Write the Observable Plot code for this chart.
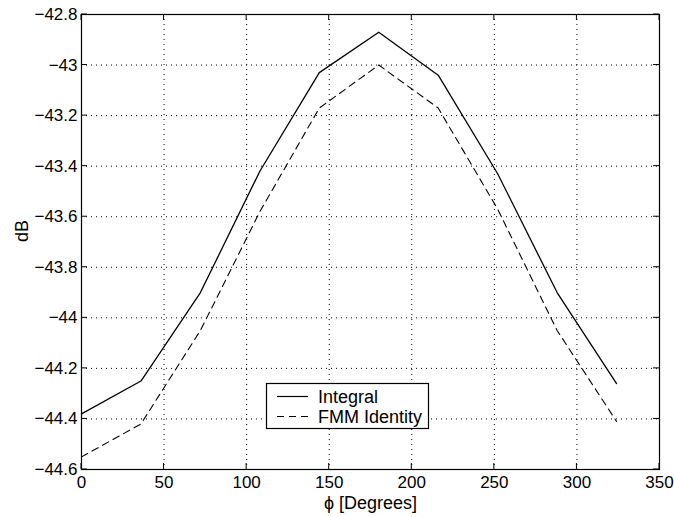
<!DOCTYPE html>
<html>
<head>
<meta charset="utf-8">
<script src="https://cdn.jsdelivr.net/npm/d3@7"></script>
<script src="https://cdn.jsdelivr.net/npm/@observablehq/plot@0.6"></script>
<style>
  html, body { margin: 0; padding: 0; background: #fff; }
  svg { font-family: "Liberation Sans", Arial, Helvetica, sans-serif; }
</style>
</head>
<body>
<div id="chart"></div>
<script>
const phi = [0, 36, 72, 108, 144, 180, 216, 252, 288, 324];
const integral = [-44.38, -44.25, -43.90, -43.42, -43.03, -42.87, -43.04, -43.43, -43.90, -44.26];
const fmmIdentity = [-44.55, -44.42, -44.05, -43.58, -43.17, -43.00, -43.17, -43.57, -44.05, -44.41];
const seriesNames = ["Integral", "FMM Identity"];
const xTicks = [0, 50, 100, 150, 200, 250, 300, 350];
const yTicks = [-44.6, -44.4, -44.2, -44, -43.8, -43.6, -43.4, -43.2, -43, -42.8];
const xLabel = "\u03D5 [Degrees]";
const yLabel = "dB";

const rows = [];
phi.forEach((p, i) => {
  rows.push({phi: p, dB: integral[i], series: seriesNames[0]});
  rows.push({phi: p, dB: fmmIdentity[i], series: seriesNames[1]});
});
const fmt = d3.format(".1~f");
const tickFont = 17;
const labelFont = 18;

const chart = Plot.plot({
  width: 674,
  height: 517,
  marginLeft: 81,
  marginRight: 15,
  marginTop: 14,
  marginBottom: 48,
  style: {fontFamily: '"Liberation Sans", Arial, Helvetica, sans-serif', fontSize: tickFont + "px", background: "white", color: "black"},
  x: {domain: [0, 350], label: null},
  y: {domain: [-44.6, -42.8], label: null},
  marks: [
    Plot.gridX(xTicks, {stroke: "black", strokeOpacity: 1, strokeWidth: 1, strokeDasharray: "1,4"}),
    Plot.gridY(yTicks, {stroke: "black", strokeOpacity: 1, strokeWidth: 1, strokeDasharray: "1,4"}),
    Plot.axisX({ticks: xTicks, tickSize: 0, tickPadding: 6, tickFormat: fmt, fontSize: tickFont, label: null}),
    Plot.axisY({ticks: yTicks, tickSize: 0, tickPadding: 4, tickFormat: fmt, fontSize: tickFont, label: null}),
    Plot.line(rows.filter(d => d.series === seriesNames[0]), {x: "phi", y: "dB", stroke: "black", strokeWidth: 1.3}),
    Plot.line(rows.filter(d => d.series === seriesNames[1]), {x: "phi", y: "dB", stroke: "black", strokeWidth: 1.1, strokeDasharray: "7,5"}),
    Plot.frame({stroke: "black", strokeWidth: 1.2}),
    Plot.text([xLabel], {frameAnchor: "bottom", dy: 39, fontSize: labelFont, fill: "black"}),
    Plot.text([yLabel], {frameAnchor: "left", dx: -59, rotate: -90, fontSize: labelFont, fill: "black"})
  ]
});
document.getElementById("chart").appendChild(chart);

const svg = d3.select(chart);
const sx = chart.scale("x"), sy = chart.scale("y");
const [x0, x1] = sx.range, [y0, y1] = sy.range; // y0 bottom, y1 top
const tk = svg.append("g").attr("stroke", "black").attr("stroke-width", 1);
const tlen = 6;
xTicks.forEach(v => {
  const x = sx.apply(v);
  tk.append("line").attr("x1", x).attr("x2", x).attr("y1", y0).attr("y2", y0 - tlen);
  tk.append("line").attr("x1", x).attr("x2", x).attr("y1", y1).attr("y2", y1 + tlen);
});
yTicks.forEach(v => {
  const y = sy.apply(v);
  tk.append("line").attr("x1", x0).attr("x2", x0 + tlen).attr("y1", y).attr("y2", y);
  tk.append("line").attr("x1", x1).attr("x2", x1 - tlen).attr("y1", y).attr("y2", y);
});

// Legend box (MATLAB-style, inside the axes)
const lg = svg.append("g").attr("font-size", labelFont).attr("fill", "black").attr("text-anchor", "start");
lg.append("rect").attr("x", 266.5).attr("y", 383.5).attr("width", 162).attr("height", 45)
  .attr("fill", "white").attr("stroke", "black").attr("stroke-width", 1.2);
const items = [
  {name: seriesNames[0], dash: null, y: 396.5},
  {name: seriesNames[1], dash: "7,5", y: 416.5}
];
items.forEach(it => {
  const l = lg.append("line").attr("x1", 277).attr("x2", 308).attr("y1", it.y).attr("y2", it.y)
    .attr("stroke", "black").attr("stroke-width", 1.2);
  if (it.dash) l.attr("stroke-dasharray", it.dash);
  lg.append("text").attr("x", 318).attr("y", it.y).attr("dy", "0.35em").attr("text-anchor", "start").text(it.name);
});
</script>
</body>
</html>
